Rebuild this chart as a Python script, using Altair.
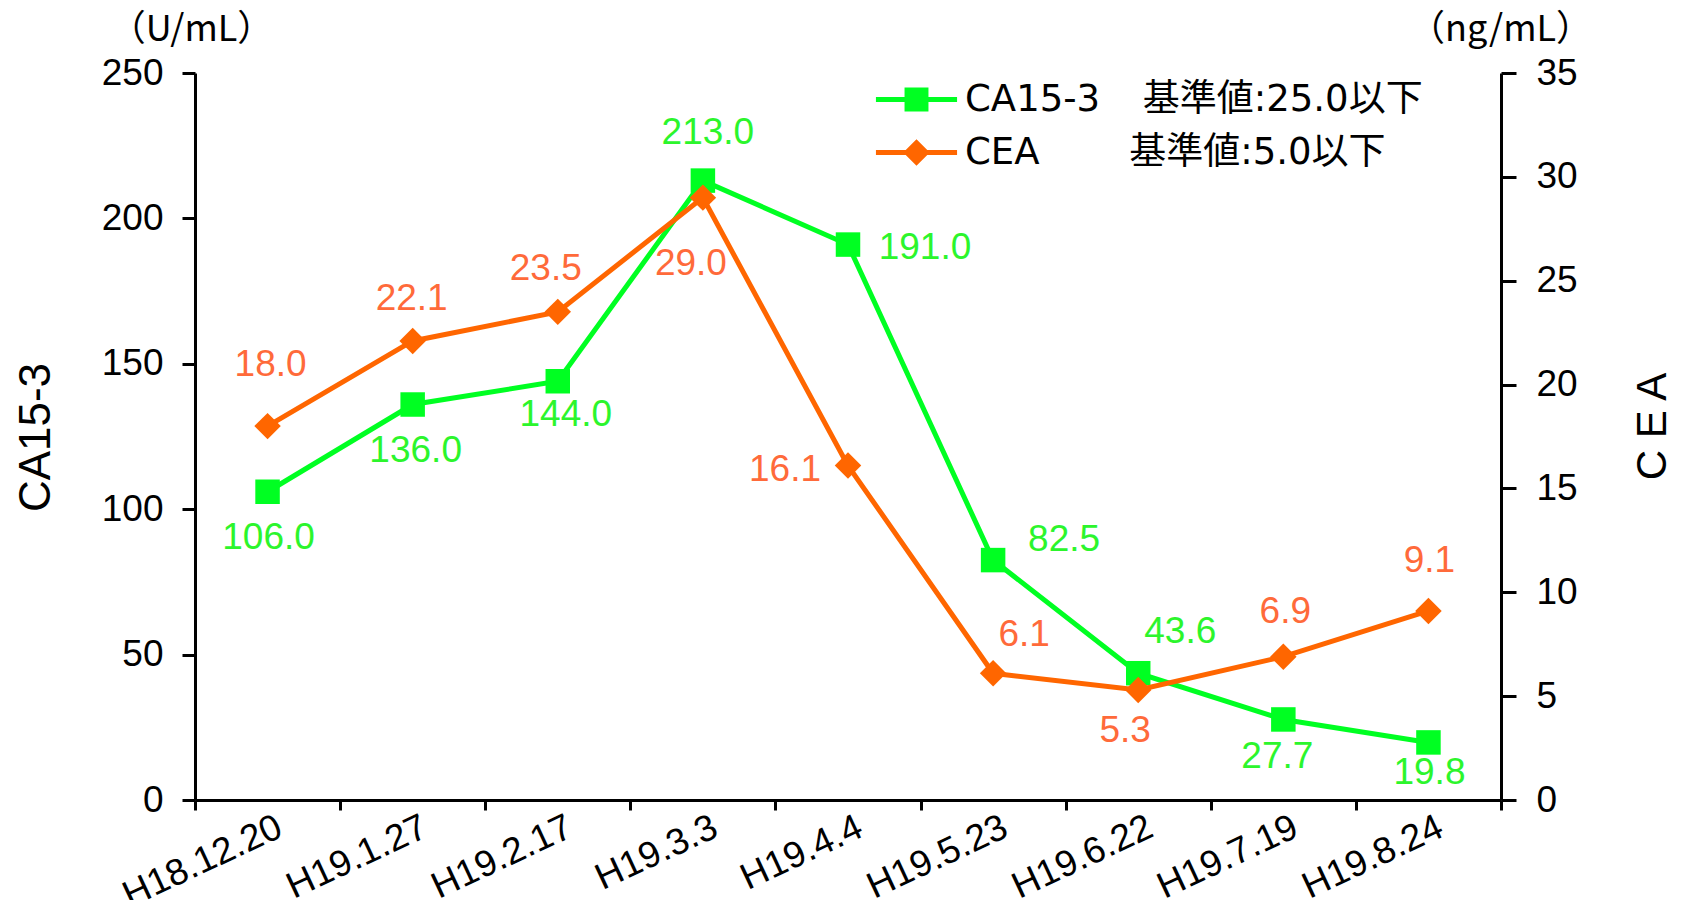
import altair as alt
import pandas as pd

# ---------------- data ----------------
dates = ["H18.12.20", "H19.1.27", "H19.2.17", "H19.3.3", "H19.4.4",
         "H19.5.23", "H19.6.22", "H19.7.19", "H19.8.24"]
ca153 = [106.0, 136.0, 144.0, 213.0, 191.0, 82.5, 43.6, 27.7, 19.8]
cea = [18.0, 22.1, 23.5, 29.0, 16.1, 6.1, 5.3, 6.9, 9.1]
series_names = ["CA15-3", "CEA"]
ref_texts = ["基準値:25.0以下", "基準値:5.0以下"]
ca_ticks = [0, 50, 100, 150, 200, 250]
cea_ticks = [0, 5, 10, 15, 20, 25, 30, 35]
units = ["（U/mL）", "（ng/mL）"]

# ---------------- layout (label offsets in px) ----------------
ca_dx = [1, 3, 8, 5, 77, 71, 42, -6, 1]
ca_dy = [46, 46, 34, -48, 3, -20, -41, 38, 31]
cea_dx = [3, -1, -12, -12, -63, 31, -13, 2, 1]
cea_dy = [-61, -42, -43, 66, 4, -38, 41, -45, -50]

W, H = 1306, 727
GREEN = "#00FF22"
ORANGE = "#FF6600"
GREEN_T = "#2CF52C"
ORANGE_T = "#FF6A3A"
LATIN = "Liberation Sans"
JP = "Noto Sans CJK JP"

df_ca = pd.DataFrame({"date": dates, "value": ca153, "series": series_names[0],
                      "dx": ca_dx, "dy": ca_dy})
df_cea = pd.DataFrame({"date": dates, "value": cea, "series": series_names[1],
                       "dx": cea_dx, "dy": cea_dy})
df_all = pd.concat([df_ca, df_cea], ignore_index=True)

x = alt.X("date:N", sort=dates, title=None,
          scale=alt.Scale(type="band", paddingInner=0, paddingOuter=0),
          axis=alt.Axis(tickBand="extent", labelAngle=-25, labelAlign="right",
                        labelBaseline="middle", labelOffset=12, labelPadding=15,
                        tickSize=10, tickWidth=3, domainWidth=3,
                        labelFont=LATIN, labelFontSize=37, labelColor="black",
                        domainColor="black", tickColor="black", grid=False,
                        labelOverlap=False, labelBound=False))

sc_ca = alt.Scale(domain=[0, 250], nice=False, zero=True)
sc_cea = alt.Scale(domain=[0, 35], nice=False, zero=True)

yA_main = alt.Y("value:Q", scale=sc_ca, axis=alt.Axis(
    orient="left", values=ca_ticks, grid=False, tickSize=13, tickWidth=3,
    domainWidth=3, domainColor="black", tickColor="black", labelPadding=19,
    labelFont=LATIN, labelFontSize=37, labelColor="black",
    title=series_names[0], titleFont=LATIN, titleFontSize=44,
    titleFontWeight="normal", titleColor="black", titleX=-159, titleY=364,
    titleAngle=270, titleAlign="center", titleBaseline="middle"))
yA_unit = alt.Y("value:Q", scale=sc_ca, axis=alt.Axis(
    orient="left", labels=False, ticks=False, domain=False, grid=False,
    title=units[0], titleFont=JP, titleFontSize=36, titleFontWeight="normal",
    titleColor="black", titleX=-4, titleY=-44, titleAngle=0,
    titleAlign="center", titleBaseline="middle"))
yA_none = alt.Y("value:Q", scale=sc_ca, axis=None)

yB_main = alt.Y("value:Q", scale=sc_cea, axis=alt.Axis(
    orient="right", values=cea_ticks, grid=False, tickSize=15, tickWidth=3,
    domainWidth=3, domainColor="black", tickColor="black", labelPadding=20,
    labelFont=LATIN, labelFontSize=37, labelColor="black",
    title="C E A", titleFont=LATIN, titleFontSize=42,
    titleFontWeight="normal", titleColor="black", titleX=151, titleY=353,
    titleAngle=270, titleAlign="center", titleBaseline="middle"))
yB_unit = alt.Y("value:Q", scale=sc_cea, axis=alt.Axis(
    orient="right", labels=False, ticks=False, domain=False, grid=False,
    title=units[1], titleFont=JP, titleFontSize=36, titleFontWeight="normal",
    titleColor="black", titleX=-1, titleY=-44, titleAngle=0,
    titleAlign="center", titleBaseline="middle"))
yB_none = alt.Y("value:Q", scale=sc_cea, axis=None)

lineA = alt.Chart(df_ca).mark_line(color=GREEN, strokeWidth=5).encode(x=x, y=yA_main)
ptA = alt.Chart(df_ca).mark_point(shape="square", filled=True, size=600,
                                  color=GREEN, opacity=1).encode(x=x, y=yA_unit)
lineB = alt.Chart(df_cea).mark_line(color=ORANGE, strokeWidth=5).encode(x=x, y=yB_main)
ptB = alt.Chart(df_cea).mark_point(shape="diamond", filled=True, size=700,
                                   color=ORANGE, opacity=1).encode(x=x, y=yB_unit)
txtA = alt.Chart(df_ca).mark_text(
    color=GREEN_T, font=LATIN, fontSize=37,
    dx=alt.ExprRef("datum.dx"), dy=alt.ExprRef("datum.dy")
).encode(x=x, y=yA_none, text=alt.Text("value:Q", format=".1f"))
txtB = alt.Chart(df_cea).mark_text(
    color=ORANGE_T, font=LATIN, fontSize=37,
    dx=alt.ExprRef("datum.dx"), dy=alt.ExprRef("datum.dy")
).encode(x=x, y=yB_none, text=alt.Text("value:Q", format=".1f"))

# legend (line + marker symbols as custom paths; path extends beyond unit box)
SQ_PATH = ("M-3.12,-0.19L3.12,-0.19L3.12,0.19L-3.12,0.19Z "
           "M-0.92,-0.92L0.92,-0.92L0.92,0.92L-0.92,0.92Z")
DIA_PATH = ("M-3.12,-0.19L3.12,-0.19L3.12,0.19L-3.12,0.19Z "
            "M0,-1.02L1.02,0L0,1.02L-1.02,0Z")
NB = "\u00a0"
TH = "\u2009"
lab1 = series_names[0] + NB * 3 + TH + ref_texts[0]
lab2 = series_names[1] + NB * 7 + TH + ref_texts[1]
label_expr = f"datum.label == '{series_names[0]}' ? '{lab1}' : '{lab2}'"

leg = alt.Legend(title=None, orient="none", legendX=703, legendY=8,
                 symbolSize=676, symbolStrokeWidth=0, symbolOpacity=1,
                 labelFont="DejaVu Sans, Noto Sans CJK JP", labelFontSize=37,
                 labelColor="black", labelOffset=30, rowPadding=15, padding=0,
                 labelLimit=0, labelExpr=label_expr)

legend_layer = alt.Chart(df_all).mark_point(filled=True, opacity=0).encode(
    x=x,
    y=alt.Y("value:Q", scale=sc_ca, axis=None),
    color=alt.Color("series:N", scale=alt.Scale(domain=series_names, range=[GREEN, ORANGE]), legend=leg),
    shape=alt.Shape("series:N", scale=alt.Scale(domain=series_names, range=[SQ_PATH, DIA_PATH]), legend=leg),
)

chart = alt.layer(lineA, ptA, lineB, ptB, txtA, txtB, legend_layer).resolve_scale(
    y="independent"
).properties(
    width=W, height=H,
    padding={"left": 187, "top": 65, "right": 170, "bottom": 100},
    autosize=alt.AutoSizeParams(type="none"),
).configure_view(stroke=None)

chart.save("out.html", embed_options={"renderer": "svg", "actions": False})
